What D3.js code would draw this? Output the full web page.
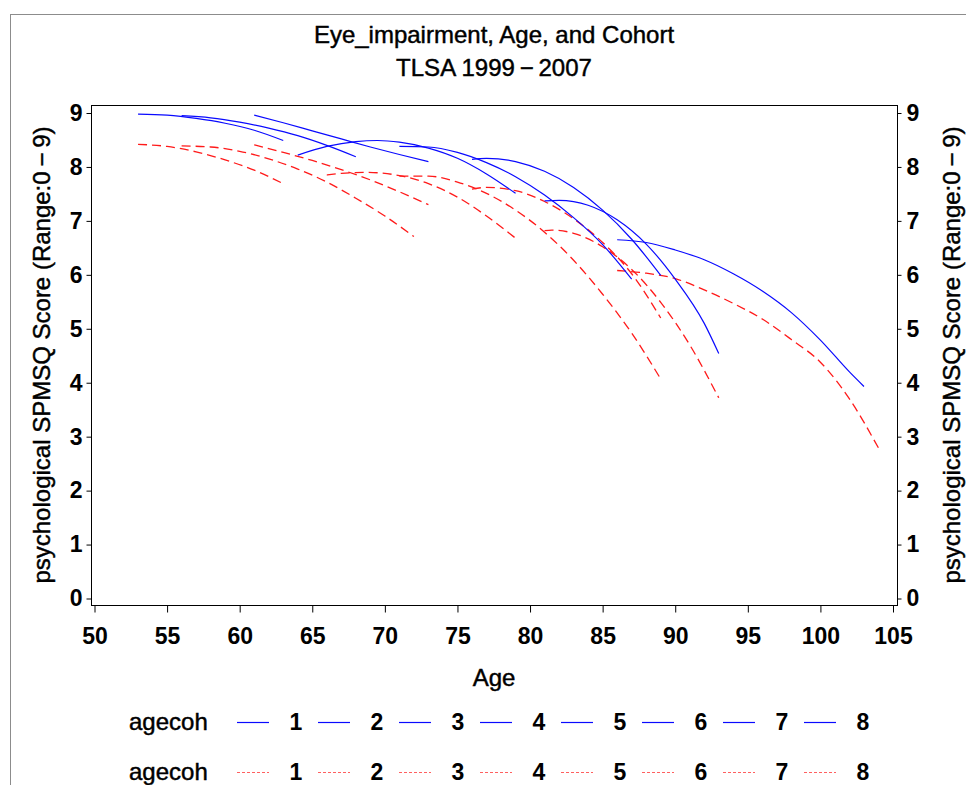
<!DOCTYPE html>
<html>
<head>
<meta charset="utf-8">
<script src="https://cdn.jsdelivr.net/npm/d3@7.9.0/dist/d3.min.js"></script>
<style>
  html, body { margin: 0; padding: 0; background: #fff; overflow: hidden; }
  svg { display: block; font-family: "Liberation Sans", Arial, sans-serif; }
  .label { fill: #000; stroke: #000; stroke-width: 0.45px; }
</style>
</head>
<body>
<svg id="chart"></svg>
<script>
// tick values and labels
const ageTicks = [50, 55, 60, 65, 70, 75, 80, 85, 90, 95, 100, 105];
const scoreTicks = [0, 1, 2, 3, 4, 5, 6, 7, 8, 9];
const cohorts = ['1', '2', '3', '4', '5', '6', '7', '8'];
const legendTitle = 'agecoh';
const titleLines = ['Eye_impairment, Age, and Cohort', 'TLSA 1999\u2009\u2212\u20092007'];
const xLabel = 'Age';
const yLabel = 'psychological SPMSQ Score  (Range:0\u2009\u2212\u20099)';

// [age, score], one list per cohort
const solidCurves = [
  [[53, 8.98], [55, 8.96], [57, 8.90], [59, 8.81], [61, 8.68], [63, 8.49]],
  [[56, 8.95], [58, 8.91], [60, 8.83], [62, 8.72], [64, 8.58], [66, 8.40], [68, 8.19]],
  [[61, 8.96], [63, 8.82], [65, 8.67], [67, 8.52], [69, 8.37], [71, 8.23], [73, 8.10]],
  [[64, 8.22], [66, 8.38], [68, 8.47], [69.5, 8.49], [71, 8.46], [73, 8.35], [75, 8.16], [77, 7.87], [79, 7.51]],
  [[71, 8.38], [73, 8.37], [75, 8.27], [77, 8.08], [79, 7.82], [81, 7.48], [83, 7.06], [85, 6.56], [87, 5.92]],
  [[76, 8.14], [77, 8.16], [79, 8.10], [81, 7.92], [83, 7.62], [85, 7.20], [87, 6.66], [89, 5.99]],
  [[81, 7.37], [82, 7.38], [84, 7.29], [86, 7.02], [88, 6.57], [90, 5.92], [92, 5.10], [93, 4.54]],
  [[86, 6.65], [88, 6.60], [90, 6.46], [92, 6.28], [94, 6.02], [96, 5.70], [98, 5.30], [100, 4.79], [102, 4.20], [103, 3.93]]
];

const dashedCurves = [
  [[53, 8.42], [55, 8.38], [57, 8.28], [59, 8.13], [61, 7.94], [63, 7.69]],
  [[56, 8.39], [58, 8.37], [60, 8.29], [62, 8.15], [64, 7.96], [66, 7.72], [68, 7.42], [70, 7.09], [72, 6.71]],
  [[61, 8.41], [63, 8.27], [65, 8.12], [67, 7.95], [69, 7.76], [71, 7.54], [73, 7.30]],
  [[66, 7.85], [67, 7.88], [68.7, 7.90], [71, 7.84], [73, 7.69], [75, 7.44], [77, 7.09], [79, 6.68]],
  [[71, 7.83], [73, 7.83], [75, 7.72], [77, 7.51], [79, 7.20], [81, 6.79], [83, 6.27], [85, 5.64], [87, 4.92], [89, 4.07]],
  [[76, 7.59], [77, 7.62], [79, 7.56], [81, 7.36], [83, 7.04], [85, 6.60], [87, 6.02], [89, 5.20]],
  [[81, 6.82], [81.5, 6.83], [83, 6.77], [85, 6.52], [87, 6.10], [89, 5.49], [91, 4.70], [93, 3.72]],
  [[86, 6.08], [88, 6.03], [90, 5.93], [92, 5.72], [94, 5.47], [96, 5.18], [98, 4.80], [100, 4.38], [102, 3.70], [104, 2.79]]
];

const width = 966;
const height = 785;
const frame = { left: 91, right: 897, top: 105, bottom: 605 };

const svg = d3.select('#chart')
  .attr('width', width)
  .attr('height', height)
  .attr('viewBox', `0 0 ${width} ${height}`);

// outer page border
svg.append('rect')
  .attr('x', 10.5).attr('y', 14.5)
  .attr('width', width + 20).attr('height', height + 20)
  .attr('fill', 'none').attr('stroke', '#8c8c8c').attr('stroke-width', 1);

const xScale = d3.scaleLinear().domain([50, 105]).range([94.5, 893]);
const yScale = d3.scaleLinear().domain([0, 9]).range([598.5, 113]);

// titles
svg.append('g')
  .selectAll('text')
  .data(titleLines)
  .join('text')
  .attr('class', 'label')
  .attr('x', 494)
  .attr('y', (d, i) => 43 + i * 33)
  .attr('text-anchor', 'middle')
  .attr('font-size', 24)
  .text(d => d);

// plot frame
svg.append('rect')
  .attr('x', frame.left + 0.5).attr('y', frame.top + 0.5)
  .attr('width', frame.right - frame.left).attr('height', frame.bottom - frame.top)
  .attr('fill', 'none').attr('stroke', '#000').attr('stroke-width', 1);

const styleAxis = (g) => {
  g.select('.domain').remove();
  g.selectAll('.tick line').attr('stroke', '#000');
  g.selectAll('.tick text')
    .attr('fill', '#000')
    .attr('font-size', 23)
    .attr('font-weight', 'bold')
    .attr('font-family', '"Liberation Sans", Arial, sans-serif');
};

svg.append('g')
  .attr('transform', `translate(${frame.left + 0.5},0)`)
  .call(d3.axisLeft(yScale).tickValues(scoreTicks).tickSize(5).tickPadding(4))
  .call(styleAxis);

svg.append('g')
  .attr('transform', `translate(${frame.right + 0.5},0)`)
  .call(d3.axisRight(yScale).tickValues(scoreTicks).tickSize(4).tickPadding(5))
  .call(styleAxis);

svg.append('g')
  .attr('transform', `translate(0,${frame.bottom + 0.5})`)
  .call(d3.axisBottom(xScale).tickValues(ageTicks).tickSize(7).tickPadding(15))
  .call(styleAxis);

// axis labels
svg.append('text')
  .attr('class', 'label')
  .attr('x', 494).attr('y', 686)
  .attr('text-anchor', 'middle')
  .attr('font-size', 24)
  .text(xLabel);

svg.append('text')
  .attr('class', 'label')
  .attr('transform', `translate(50,${(frame.top + frame.bottom) / 2}) rotate(-90)`)
  .attr('text-anchor', 'middle')
  .attr('font-size', 24)
  .text(yLabel);

svg.append('text')
  .attr('class', 'label')
  .attr('transform', `translate(960,${(frame.top + frame.bottom) / 2}) rotate(-90)`)
  .attr('text-anchor', 'middle')
  .attr('font-size', 24)
  .text(yLabel);

// curves
const line = d3.line()
  .x(d => xScale(d[0]))
  .y(d => yScale(d[1]))
  .curve(d3.curveMonotoneX);

const curves = svg.append('g').attr('class', 'curves').attr('fill', 'none');

curves.selectAll('path.dashed')
  .data(dashedCurves)
  .join('path')
  .attr('class', 'dashed')
  .attr('d', line)
  .attr('stroke', '#ff1a1a')
  .attr('stroke-width', 1.3)
  .attr('stroke-dasharray', '9,5');

curves.selectAll('path.solid')
  .data(solidCurves)
  .join('path')
  .attr('class', 'solid')
  .attr('d', line)
  .attr('stroke', '#0a0aff')
  .attr('stroke-width', 1.2);

// legend
const legendX = d3.scaleBand().domain(cohorts).range([237, 237 + 81 * cohorts.length]);
const legendRows = [
  { y: 722, color: '#0a0aff', dash: null },
  { y: 772, color: '#ff6060', dash: '3,2' }
];

legendRows.forEach(row => {
  const g = svg.append('g').attr('class', 'legend');
  g.append('text')
    .attr('class', 'label')
    .attr('x', 129).attr('y', row.y)
    .attr('dy', '0.35em')
    .attr('font-size', 24)
    .text(legendTitle);
  const items = g.selectAll('g.item')
    .data(cohorts)
    .join('g')
    .attr('class', 'item')
    .attr('transform', d => `translate(${legendX(d)},${row.y})`);
  items.append('line')
    .attr('x1', 0).attr('x2', 32)
    .attr('y1', 0.5).attr('y2', 0.5)
    .attr('stroke', row.color)
    .attr('stroke-width', 1.2)
    .attr('stroke-dasharray', row.dash);
  items.append('text')
    .attr('x', 59)
    .attr('dy', '0.35em')
    .attr('text-anchor', 'middle')
    .attr('font-size', 23)
    .attr('font-weight', 'bold')
    .text(d => d);
});
</script>
</body>
</html>
